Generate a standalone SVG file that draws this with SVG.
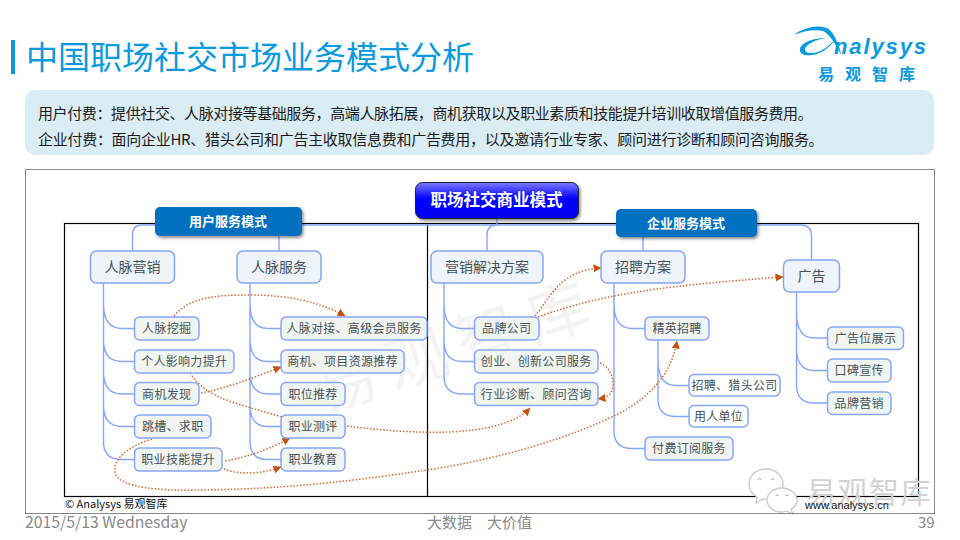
<svg xmlns="http://www.w3.org/2000/svg" width="960" height="540" viewBox="0 0 960 540">
<defs>
<style>
text{font-family:"Noto Sans CJK SC","Liberation Sans",sans-serif}
.top rect{fill:#eff4fb;stroke:#84a6f2;stroke-width:1.5}
.leaf rect{fill:#f0f5f1;stroke:#84a6fb;stroke-width:1.5}
.plain rect{fill:#fff;stroke:#84a6fb;stroke-width:1.5}
.top text{font-size:14px;fill:#46525a;text-anchor:middle}
.leaf text,.plain text{font-size:12px;fill:#46525a;text-anchor:middle;letter-spacing:.3px}
.mode rect{fill:#0070c0;filter:url(#sh)}
.mode text{font-size:13px;font-weight:700;fill:#fff;text-anchor:middle}
.br{fill:none;stroke:#84a6fb;stroke-width:1.4}
.dot{fill:none;stroke:#d8672c;stroke-width:1.5;stroke-dasharray:1.5 1.8}
.foot{font-size:15px;fill:#8a8a8a}
</style>
<filter id="sh" x="-10%" y="-20%" width="125%" height="150%"><feDropShadow dx="1.5" dy="2" stdDeviation="1.5" flood-color="#000" flood-opacity=".45"/></filter>
<linearGradient id="bl" x1="0" y1="0" x2="0" y2="1"><stop offset="0" stop-color="#7a7aff"/><stop offset=".45" stop-color="#0000ff"/><stop offset="1" stop-color="#0000f0"/></linearGradient>
<marker id="ah" markerWidth="9" markerHeight="9" refX="7.500" refY="4" orient="auto" markerUnits="userSpaceOnUse"><path d="M0,0L8,4L0,8Z" fill="#c8500a"/></marker>
</defs>
<rect width="960" height="540" fill="#fff"/>
<rect x="11" y="40" width="4" height="34" fill="#0a9ae0"/>
<text x="26" y="69" font-size="32" fill="#0a9ae0">中国职场社交市场业务模式分析</text>
<g id="logo">
<path d="M794,35C802,28 817,24 827,28C835,32 838,45 842,56C836,46 831,35 823,31C815,29 803,31 794,35Z" fill="#0a9ae0"/>
<path d="M800,50C799,44 812,37 829,38C819,38 806,44 805,49C804,53 811,54 818,52C824,50 829,45 835,40C829,48 821,54 812,55C804,56 800,54 800,50Z" fill="#0a9ae0"/>
<text x="834" y="54" font-size="22" font-weight="700" font-style="italic" fill="#0a9ae0" style="font-family:'Liberation Sans',sans-serif" textLength="92">nalysys</text>
<text x="818" y="80" font-size="16" font-weight="700" fill="#0a9ae0" letter-spacing="11">易观智库</text>
</g>
<rect x="25" y="90" width="909" height="65" rx="10" fill="#daedf4"/>
<text x="38" y="119" font-size="15" fill="#1a1a1a" letter-spacing="-.39">用户付费：提供社交、人脉对接等基础服务，高端人脉拓展，商机获取以及职业素质和技能提升培训收取增值服务费用。</text>
<text x="38" y="145" font-size="15" fill="#1a1a1a" letter-spacing="-.28">企业付费：面向企业HR、猎头公司和广告主收取信息费和广告费用，以及邀请行业专家、顾问进行诊断和顾问咨询服务。</text>
<rect x="25.500" y="169.500" width="909" height="344" fill="#fff" stroke="#888" stroke-width="1"/>
<text x="457" y="368" font-size="62" fill="#f3f3f3" letter-spacing="12" text-anchor="middle" transform="rotate(-18 457 345)">易观智库</text>
<rect x="64.500" y="223.500" width="854" height="273" fill="none" stroke="#000" stroke-width="1.2"/>
<line x1="427.500" y1="223" x2="427.500" y2="497" stroke="#000" stroke-width="1.2"/>
<g id="connectors">
<g class="br">
<path d="M132.500,251V235Q132.500,225 142,225H801Q811.500,225 811.500,236V260"/>
<path d="M279,236V251M497,219V225M487,251V235Q487,225 497,225M643,237V251"/>
<path d="M103.500,283V442Q103.500,459.500 122,459.500H134.500M103.500,304Q103.500,328.500 122,328.500H134.500M103.500,340Q103.500,361.500 122,361.500H134.500M103.500,372Q103.500,394 122,394H134.500M103.500,405Q103.500,426.500 122,426.500H134.500"/>
<path d="M250,283V442Q250,459.500 268,459.500H281M250,304Q250,328.500 268,328.500H281M250,340Q250,361.500 268,361.500H281M250,372Q250,394 268,394H281M250,405Q250,426.500 268,426.500H281"/>
<path d="M444,283V376Q444,394 462,394H474.500M444,304Q444,328.500 462,328.500H474.500M444,340Q444,361.500 462,361.500H474.500"/>
<path d="M614,283V431Q614,448.500 632,448.500H645M614,304Q614,328.500 632,328.500H645"/>
<path d="M658,340V399Q658,416.500 676,416.500H689M658,360Q658,385.500 676,385.500H689"/>
<path d="M796.500,292V385Q796.500,403 814,403H827.500M796.500,312Q796.500,338 814,338H827.500M796.500,348Q796.500,370.500 814,370.500H827.500"/>
</g>
<g class="dot">
<path d="M174,316C190,296 220,295 250,295C290,295 322,303 345,316" marker-end="url(#ah)"/>
<path d="M190,373C200,388 212,395 232,402C250,408 265,412 282,417"/>
<path d="M201,393C228,388 255,377 281,367" marker-end="url(#ah)"/>
<path d="M225,461C248,457 270,449 290,438" marker-end="url(#ah)"/>
<path d="M224,469C240,475 262,474 281,467" marker-end="url(#ah)"/>
<path d="M152,439C130,446 112,458 115,473C120,488 160,491 200,490C290,489 360,480 427,470C500,459 570,438 620,413C655,394 672,370 677,341" marker-end="url(#ah)"/>
<path d="M347,426C385,431 420,433 450,432C485,430 515,424 530,408" marker-end="url(#ah)"/>
<path d="M600,363C610,367 614,378 613,387C612,395 606,398 598,399" marker-end="url(#ah)"/>
<path d="M535,316C550,298 560,270 601,268" marker-end="url(#ah)"/>
<path d="M538,317C590,298 640,290 700,284C730,281 755,279 783,277" marker-end="url(#ah)"/>
</g>
</g>
<g id="root"><rect x="415.500" y="182.500" width="163" height="36" rx="7" fill="url(#bl)" stroke="#223" stroke-width="1" filter="url(#sh)"/><text x="496.500" y="206" font-size="16.500" font-weight="700" fill="#fff" text-anchor="middle">职场社交商业模式</text></g>
<g id="m1" class="mode"><rect x="155" y="207" width="147" height="29" rx="5"/><text x="228" y="226">用户服务模式</text></g>
<g id="m2" class="mode"><rect x="616" y="209" width="141" height="28" rx="5"/><text x="686" y="228">企业服务模式</text></g>
<g id="n1" class="top"><rect x="90.500" y="251" width="84" height="32" rx="6"/><text x="132.500" y="272">人脉营销</text></g>
<g id="n2" class="top"><rect x="237" y="251" width="84" height="32" rx="6"/><text x="279" y="272">人脉服务</text></g>
<g id="n3" class="top"><rect x="431" y="251" width="112" height="32" rx="6"/><text x="487" y="272">营销解决方案</text></g>
<g id="n4" class="top"><rect x="601" y="251" width="84" height="32" rx="6"/><text x="643" y="272">招聘方案</text></g>
<g id="n5" class="top"><rect x="783.500" y="260" width="56" height="32" rx="6"/><text x="811.500" y="281">广告</text></g>
<g id="a1" class="leaf"><rect x="134.500" y="317" width="64.500" height="23" rx="5"/><text x="166.700" y="333">人脉挖掘</text></g>
<g id="a2" class="leaf"><rect x="134.500" y="350" width="99.500" height="23" rx="5"/><text x="184.200" y="366">个人影响力提升</text></g>
<g id="a3" class="leaf"><rect x="134.500" y="382.500" width="64.500" height="23" rx="5"/><text x="166.700" y="398.500">商机发现</text></g>
<g id="a4" class="leaf"><rect x="134.500" y="415" width="76.500" height="23" rx="5"/><text x="172.700" y="431">跳槽、求职</text></g>
<g id="a5" class="leaf"><rect x="134.500" y="448" width="87.500" height="23" rx="5"/><text x="178.200" y="464">职业技能提升</text></g>
<g id="b1" class="leaf"><rect x="281" y="317" width="146" height="23" rx="5"/><text x="354" y="333">人脉对接、高级会员服务</text></g>
<g id="b2" class="leaf"><rect x="281" y="350" width="123" height="23" rx="5"/><text x="342.500" y="366">商机、项目资源推荐</text></g>
<g id="b3" class="leaf"><rect x="281" y="382.500" width="64" height="23" rx="5"/><text x="313" y="398.500">职位推荐</text></g>
<g id="b4" class="leaf"><rect x="281" y="415" width="64" height="23" rx="5"/><text x="313" y="431">职业测评</text></g>
<g id="b5" class="leaf"><rect x="281" y="448" width="64" height="23" rx="5"/><text x="313" y="464">职业教育</text></g>
<g id="c1" class="leaf"><rect x="474.500" y="317" width="64.500" height="23" rx="5"/><text x="506.700" y="333">品牌公司</text></g>
<g id="c2" class="leaf"><rect x="474.500" y="350" width="123.500" height="23" rx="5"/><text x="536.200" y="366">创业、创新公司服务</text></g>
<g id="c3" class="leaf"><rect x="474.500" y="382.500" width="123.500" height="23" rx="5"/><text x="536.200" y="398.500">行业诊断、顾问咨询</text></g>
<g id="d1" class="leaf"><rect x="645" y="317" width="64" height="23" rx="5"/><text x="677" y="333">精英招聘</text></g>
<g id="d2" class="plain"><rect x="689" y="374.500" width="91" height="21.500" rx="5"/><text x="734.500" y="390">招聘、猎头公司</text></g>
<g id="d3" class="plain"><rect x="689" y="405.500" width="59" height="21.500" rx="5"/><text x="718.500" y="421">用人单位</text></g>
<g id="d4" class="leaf"><rect x="645" y="437" width="88" height="23" rx="5"/><text x="689" y="453">付费订阅服务</text></g>
<g id="e1" class="leaf"><rect x="827.500" y="327" width="76" height="22.500" rx="5"/><text x="865.500" y="343">广告位展示</text></g>
<g id="e2" class="leaf"><rect x="827.500" y="359" width="63.500" height="23" rx="5"/><text x="859.200" y="375">口碑宣传</text></g>
<g id="e3" class="leaf"><rect x="827.500" y="392" width="63.500" height="22.500" rx="5"/><text x="859.200" y="408">品牌营销</text></g>
<text x="65" y="508" font-size="11" fill="#111">© Analysys 易观智库</text>
<g id="wechat" stroke="#c8c8c8" stroke-width="1.3" fill="#fff">
<path d="M766,469C756,469 749,476 749,484C749,490 752,494 757,497L756,503L763,499C766,500 769,500 772,500C781,500 783,491 783,484C783,476 776,469 766,469Z"/>
<path d="M782,488C790,488 797,494 797,500C797,504 795,507 791,509L793,514L786,511C784,512 783,512 781,512C773,512 767,506 767,500C767,494 773,488 782,488Z"/>
<g fill="none" stroke="#aaa" stroke-width="1"><path d="M758,480a1.500,1.500 0 0 1 3,0M771,480a1.500,1.500 0 0 1 3,0M776,496a1.200,1.200 0 0 1 2.400,0M786,496a1.200,1.200 0 0 1 2.400,0"/></g>
</g>
<text x="806" y="503" font-size="30" fill="#d2d2d2" letter-spacing="1.500">易观智库</text>
<text x="805" y="509" font-size="11" fill="#111" style="font-family:'Liberation Sans',sans-serif">www.analysys.cn</text>
<line x1="25" y1="513.500" x2="934" y2="513.500" stroke="#888" stroke-width="1"/>
<text class="foot" x="25" y="528" style="font-size:15.800px">2015/5/13 Wednesday</text>
<text class="foot" x="427" y="528">大数据　大价值</text>
<text class="foot" x="918" y="528">39</text>
</svg>
